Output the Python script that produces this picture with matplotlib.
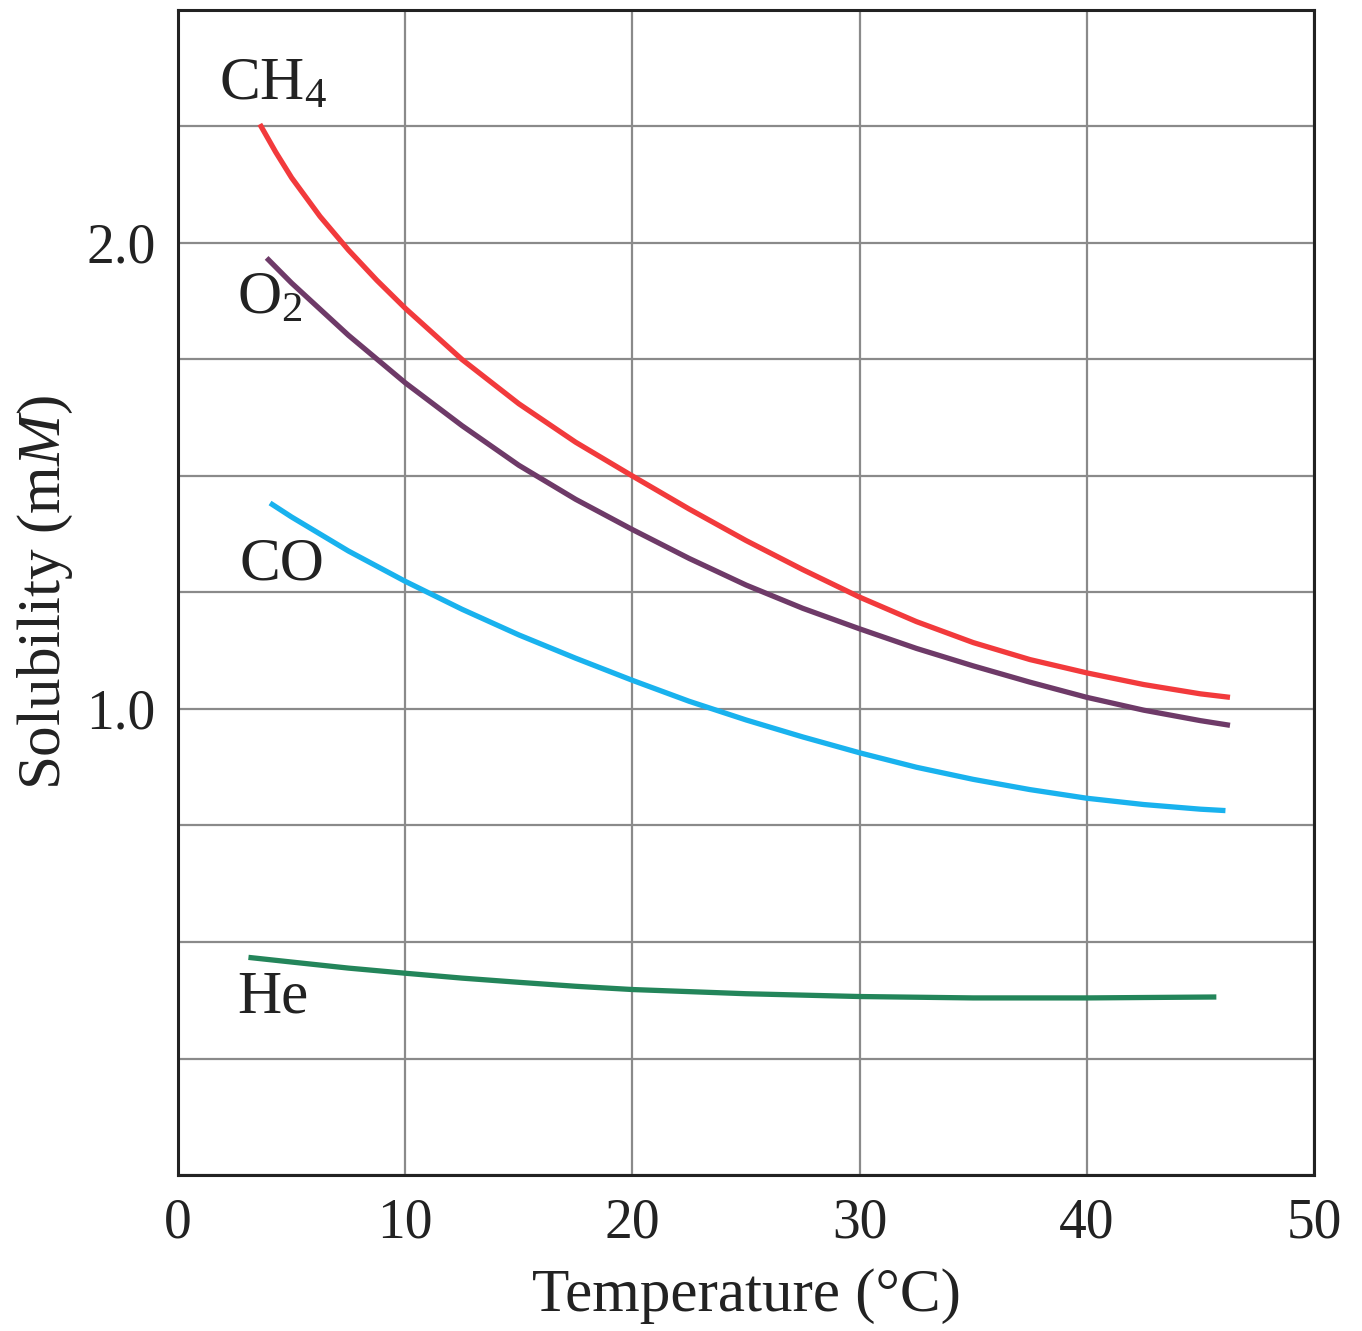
import numpy as np
import matplotlib.pyplot as plt

# solubility vs temperature
ch4_t = [3.6, 4.3, 5, 6.25, 7.5, 8.75, 10, 12.5, 15, 17.5, 20, 22.5, 25, 27.5, 30,
         32.5, 35, 37.5, 40, 42.5, 45, 46.3]
ch4_s = [2.255, 2.195, 2.14, 2.057, 1.985, 1.92, 1.86, 1.75, 1.655, 1.5725, 1.50, 1.429,
         1.3615, 1.299, 1.24, 1.1875, 1.1425, 1.106, 1.0775, 1.0525, 1.0325, 1.025]

o2_t = [3.9, 5, 7.5, 10, 12.5, 15, 17.5, 20, 22.5, 25, 27.5, 30, 32.5, 35, 37.5, 40, 42.5, 45, 46.3]
o2_s = [1.968, 1.914, 1.802, 1.70, 1.608, 1.523, 1.45, 1.385, 1.323, 1.266, 1.216, 1.172,
        1.13, 1.0925, 1.0575, 1.025, 0.9975, 0.975, 0.965]

co_t = [4.05, 5, 7.5, 10, 12.5, 15, 17.5, 20, 22.5, 25, 27.5, 30, 32.5, 35, 37.5, 40, 42.5, 45, 46.1]
co_s = [1.442, 1.412, 1.339, 1.274, 1.214, 1.159, 1.109, 1.0615, 1.0165, 0.9765, 0.94, 0.906,
        0.875, 0.849, 0.827, 0.8085, 0.795, 0.785, 0.782]

he_t = [3.1, 5, 7.5, 10, 12.5, 15, 17.5, 20, 25, 30, 35, 40, 45.7]
he_s = [0.467, 0.457, 0.444, 0.433, 0.4225, 0.4135, 0.405, 0.398, 0.389, 0.383, 0.380, 0.380, 0.382]

x_ticks = [0, 10, 20, 30, 40, 50]
y_labels = {1.0: "1.0", 2.0: "2.0"}

plt.rcParams['font.family'] = ['Liberation Serif', 'DejaVu Serif']
plt.rcParams['mathtext.fontset'] = 'custom'
plt.rcParams['mathtext.rm'] = 'Liberation Serif'
plt.rcParams['mathtext.it'] = 'Liberation Serif:italic'

fig = plt.figure(figsize=(13.62, 13.31), dpi=100)
ax = fig.add_axes([0.1307, 0.1172, 0.8341, 0.8753])

lw = 3.8
ax.plot(ch4_t, ch4_s, color="#f23a3c", lw=lw, solid_capstyle="butt", zorder=3)
ax.plot(o2_t, o2_s, color="#6e3a68", lw=lw, solid_capstyle="butt", zorder=3)
ax.plot(co_t, co_s, color="#19b2ee", lw=lw, solid_capstyle="butt", zorder=3)
ax.plot(he_t, he_s, color="#23855a", lw=lw, solid_capstyle="butt", zorder=3)

fs = 40
lfs = 44
ax.text(1.8, 2.34, r"CH$_4$", fontsize=lfs, ha="left", va="center", color="#222222")
ax.text(2.6, 1.88, r"O$_2$", fontsize=lfs, ha="left", va="center", color="#222222")
ax.text(2.7, 1.31, "CO", fontsize=lfs, ha="left", va="center", color="#222222")
ax.text(2.6, 0.38, "He", fontsize=lfs, ha="left", va="center", color="#222222")

ax.set_xlim(0, 50)
ax.set_ylim(0, 2.5)
ax.set_xticks(x_ticks)
ax.set_xticklabels([str(t) for t in x_ticks], fontsize=fs)
yt = np.arange(0, 2.51, 0.25)
ax.set_yticks(yt)
ax.set_yticklabels([y_labels.get(round(v, 2), "") for v in yt], fontsize=fs)
ax.tick_params(length=0, pad=16, colors="#222222")
ax.grid(True, color="#8a8a8a", lw=1.6)
ax.set_axisbelow(True)
for s in ax.spines.values():
    s.set_linewidth(2.2)
    s.set_color("#222222")

ax.set_xlabel("Temperature (°C)", fontsize=lfs, labelpad=14, color="#222222")
ax.set_ylabel(r"Solubility (m$\it{M}$)", fontsize=lfs, labelpad=8, color="#222222")

fig.savefig("out.png", dpi=100)
